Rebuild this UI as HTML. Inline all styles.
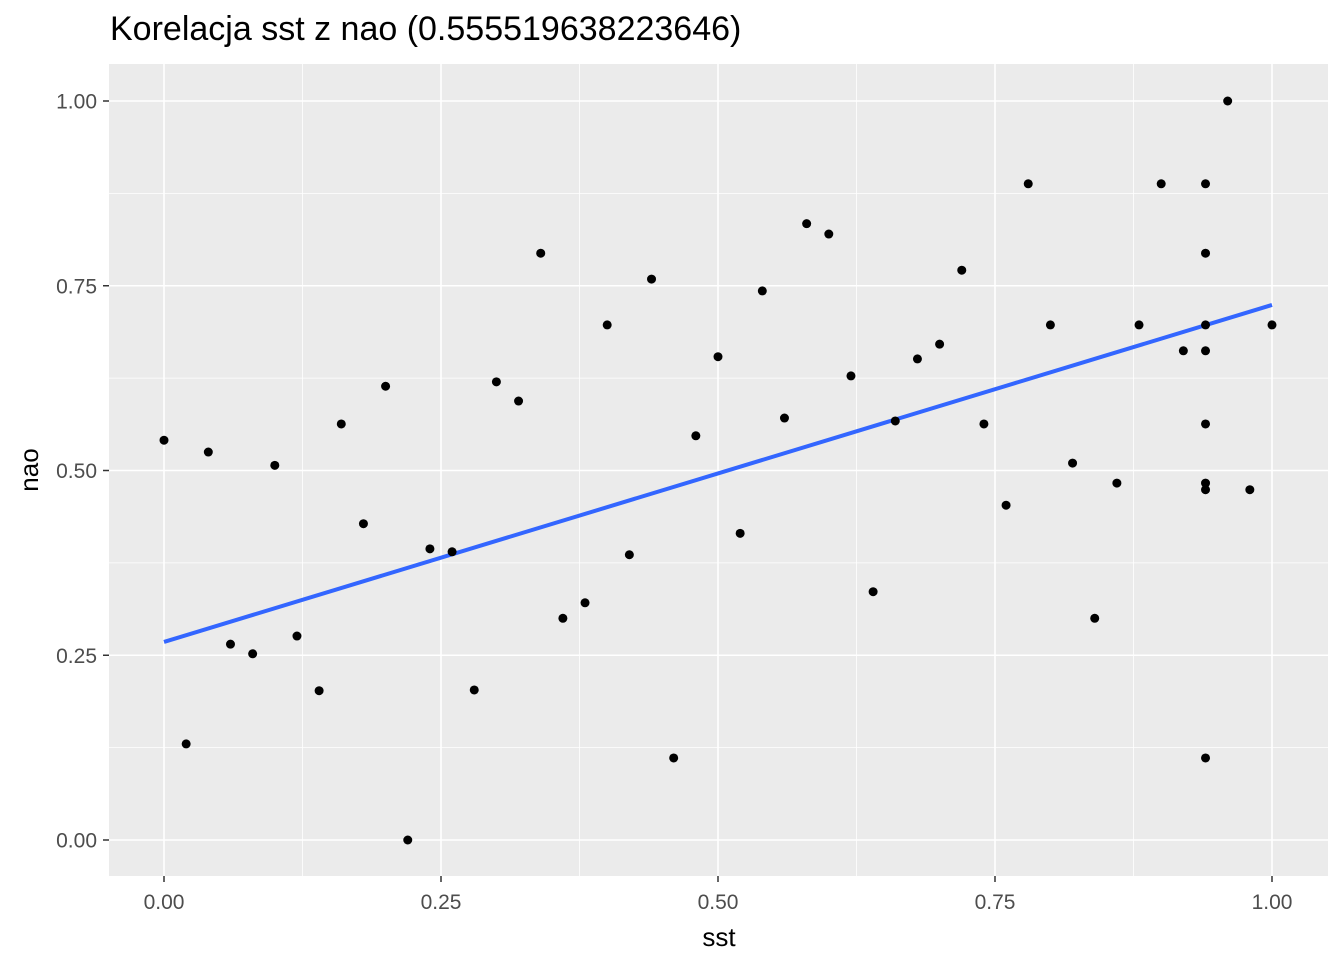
<!DOCTYPE html>
<html><head><meta charset="utf-8"><style>
body{margin:0;background:#fff;}
svg{display:block;font-family:"Liberation Sans",Arial,sans-serif;}
</style></head><body>
<svg id="chart" width="1344" height="960">
<rect x="0" y="0" width="1344" height="960" fill="#fff"/>
<text x="110" y="40" font-size="34" fill="#000">Korelacja sst z nao (0.555519638223646)</text>
<rect x="109" y="64" width="1219" height="812" fill="#ebebeb"/>
<g id="grid"></g><g id="line"></g><g id="points"></g><g id="axes"></g>
<text x="719" y="946" font-size="26" text-anchor="middle" fill="#000">sst</text>
<text transform="translate(38,470) rotate(-90)" font-size="26" text-anchor="middle" fill="#000">nao</text>
</svg>
<script>
const sstValues=[0,0.02,0.04,0.06,0.08,0.10,0.12,0.14,0.16,0.18,0.20,0.22,0.24,0.26,0.28,0.30,0.32,0.34,0.36,0.38,0.40,0.42,0.44,0.46,0.48,0.50,0.52,0.54,0.56,0.58,0.60,0.62,0.64,0.66,0.68,0.70,0.72,0.74,0.76,0.78,0.80,0.82,0.84,0.86,0.88,0.90,0.92,0.94,0.94,0.94,0.94,0.94,0.94,0.94,0.94,0.96,0.98,1.0];
const naoValues=[0.541,0.130,0.525,0.265,0.252,0.507,0.276,0.202,0.563,0.428,0.614,0,0.394,0.390,0.203,0.620,0.594,0.794,0.300,0.321,0.697,0.386,0.759,0.111,0.547,0.654,0.415,0.743,0.571,0.834,0.820,0.628,0.336,0.567,0.651,0.671,0.771,0.563,0.453,0.888,0.697,0.510,0.300,0.483,0.697,0.888,0.662,0.888,0.794,0.697,0.662,0.563,0.483,0.474,0.111,1.0,0.474,0.697];
const fitIntercept=[0.268];
const fitSlope=[0.456];
const xTicks=[0,0.25,0.5,0.75,1];
const xTickLabels=["0.00","0.25","0.50","0.75","1.00"];
const yTicks=[0,0.25,0.5,0.75,1];
const yTickLabels=["0.00","0.25","0.50","0.75","1.00"];
const NS="http://www.w3.org/2000/svg";
const X=v=>164+v*1108, Y=v=>840-v*739;
function mk(tag,attrs,parent){const e=document.createElementNS(NS,tag);for(const k in attrs)e.setAttribute(k,attrs[k]);document.getElementById(parent).appendChild(e);return e;}
for(let i=0;i<xTicks.length-1;i++){const m=(xTicks[i]+xTicks[i+1])/2;
 const l=mk('line',{x1:X(m),x2:X(m),y1:64,y2:876,stroke:'#fff','stroke-width':0.8},'grid');
 
 }
for(let i=0;i<yTicks.length-1;i++){const m=(yTicks[i]+yTicks[i+1])/2;
 const l=mk('line',{x1:109,x2:1328,y1:Y(m),y2:Y(m),stroke:'#fff','stroke-width':0.8},'grid');
 
 }
xTicks.forEach((t,i)=>{
 const l=mk('line',{x1:X(t),x2:X(t),y1:64,y2:876,stroke:'#fff','stroke-width':1.6},'grid');
 
 
 const tk=mk('line',{x1:X(t),x2:X(t),y1:876,y2:882,stroke:'#333','stroke-width':1.5},'axes');
 
 
 const tx=mk('text',{x:X(t),y:909,'font-size':21,'text-anchor':'middle',fill:'#4d4d4d'},'axes');
 tx.textContent=xTickLabels[i];
 
 
});
yTicks.forEach((t,i)=>{
 const l=mk('line',{x1:109,x2:1328,y1:Y(t),y2:Y(t),stroke:'#fff','stroke-width':1.6},'grid');
 
 
 const tk=mk('line',{x1:103,x2:109,y1:Y(t),y2:Y(t),stroke:'#333','stroke-width':1.5},'axes');
 
 
 const tx=mk('text',{x:97,y:Y(t)+7.5,'font-size':21,'text-anchor':'end',fill:'#4d4d4d'},'axes');
 tx.textContent=yTickLabels[i];
 
 
});
const a=fitIntercept[0],b=fitSlope[0];
const x0=Math.min(...sstValues),x1=Math.max(...sstValues);
const rl=mk('line',{x1:X(x0),y1:Y(a+b*x0),x2:X(x1),y2:Y(a+b*x1),stroke:'#3366ff','stroke-width':4},'line');


for(let i=0;i<sstValues.length;i++){
 const c=mk('circle',{cx:X(sstValues[i]),cy:Y(naoValues[i]),r:4.5,fill:'#000'},'points');
 
 
}
</script>
</body></html>
